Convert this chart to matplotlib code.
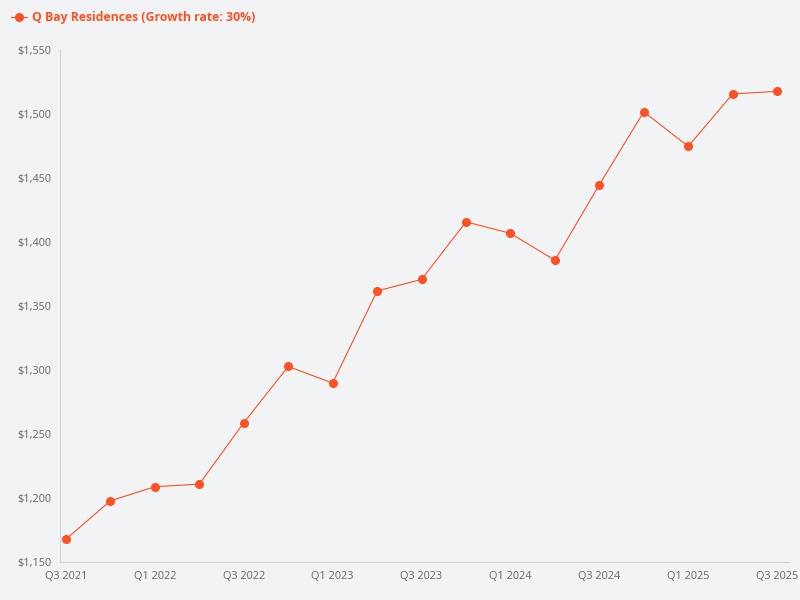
import matplotlib.pyplot as plt
from matplotlib.ticker import FuncFormatter

quarters = ['Q3 2021', 'Q4 2021', 'Q1 2022', 'Q2 2022', 'Q3 2022', 'Q4 2022',
            'Q1 2023', 'Q2 2023', 'Q3 2023', 'Q4 2023', 'Q1 2024', 'Q2 2024',
            'Q3 2024', 'Q4 2024', 'Q1 2025', 'Q2 2025', 'Q3 2025']
values = [1168, 1198, 1209, 1211, 1259, 1303, 1290, 1362, 1371, 1416,
          1407, 1386, 1445, 1502, 1475, 1516, 1518]

plt.rcParams['font.family'] = ['Open Sans', 'DejaVu Sans']
bg = '#f2f3f5'
color = '#fc5122'

fig = plt.figure(figsize=(8, 6), dpi=100, facecolor=bg)
ax = fig.add_axes([0.075, 0.063, 0.9125, 0.853], facecolor=bg)
x = list(range(len(quarters)))
ax.plot(x, values, color=color, linewidth=0.8, marker='o', markersize=5.5,
        label='Q Bay Residences (Growth rate: 30%)')

ax.set_xlim(-0.135, 16.29)
ax.set_ylim(1150, 1550)
ax.set_yticks(range(1150, 1551, 50))
ax.yaxis.set_major_formatter(FuncFormatter(lambda v, p: f'${v:,.0f}'))
ax.set_xticks(x[::2])
ax.set_xticklabels(quarters[::2])
ax.tick_params(labelsize=7.8, colors='#666666', length=0, pad=6)
for s in ['top', 'right']:
    ax.spines[s].set_visible(False)
for s in ['left', 'bottom']:
    ax.spines[s].set_color('#ccd6e0')
    ax.spines[s].set_linewidth(0.8)

leg = fig.legend(loc='upper left', bbox_to_anchor=(0.0, 1.0), frameon=False,
                 fontsize=8.8, handlelength=1.3, handletextpad=0.4)
for t in leg.get_texts():
    t.set_color(color)
    t.set_fontweight('bold')

fig.savefig('out.png', facecolor=bg)
